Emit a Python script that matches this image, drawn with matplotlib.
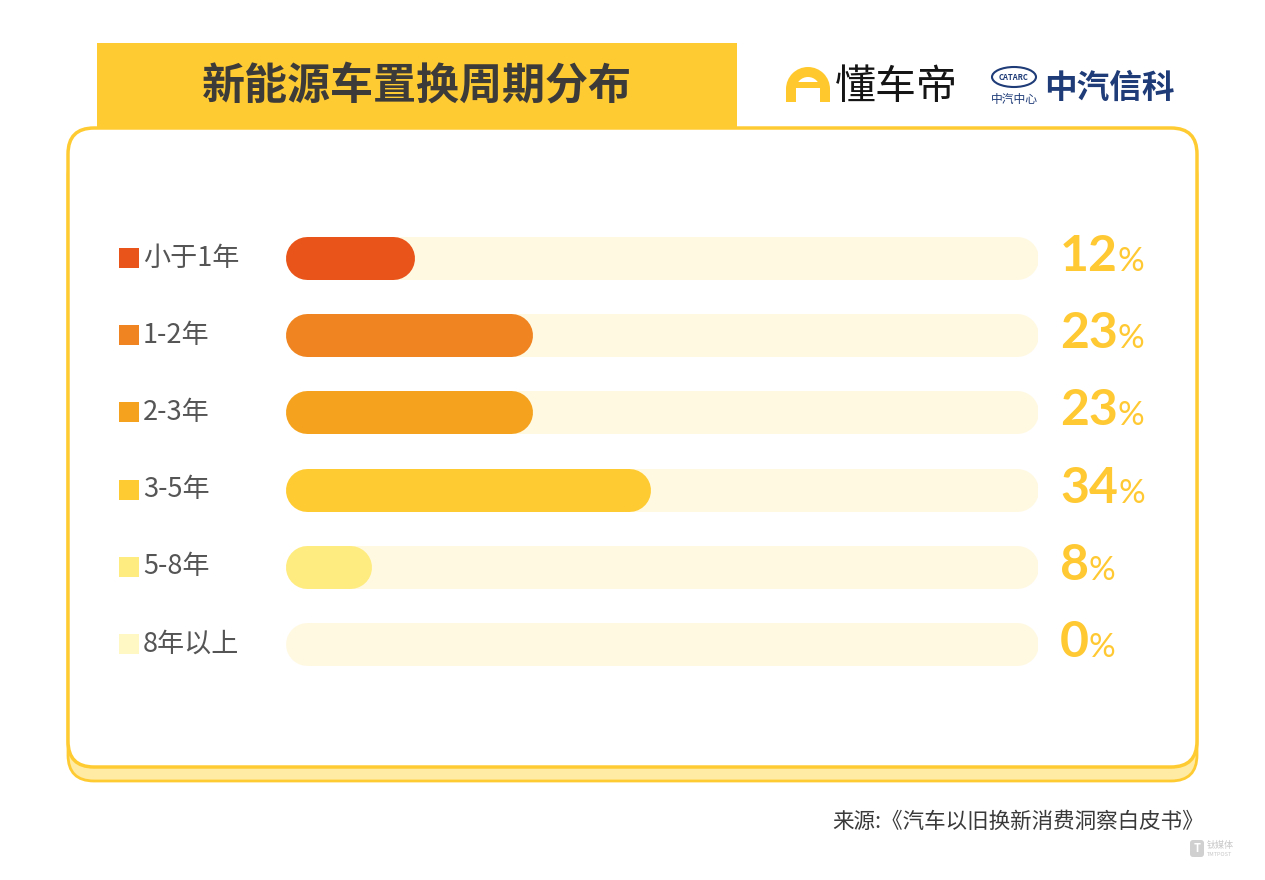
import matplotlib
matplotlib.use('Agg')
import matplotlib.pyplot as plt
from matplotlib.patches import FancyBboxPatch, Rectangle, Wedge, Ellipse
from matplotlib.transforms import blended_transform_factory

plt.rcParams['font.family'] = ['Noto Sans CJK SC', 'DejaVu Sans']

# 数据
categories = ['小于1年', '1-2年', '2-3年', '3-5年', '5-8年', '8年以上']
shares = [12, 23, 23, 34, 8, 0]
bar_colors = ['#E9541A', '#EF8421', '#F5A31F', '#FFCB33', '#FFEC80', '#FFF7C4']
axis_max = 70
title = '新能源车置换周期分布'
source = '来源:《汽车以旧换新消费洞察白皮书》'

YELLOW = '#FFCB33'
W, H = 1265, 880
fig = plt.figure(figsize=(W / 100, H / 100), dpi=100)

# 背景层，像素坐标
bg = fig.add_axes([0, 0, 1, 1])
bg.set_xlim(0, W)
bg.set_ylim(H, 0)
bg.axis('off')

# 卡片底部阴影 + 卡片
bg.add_patch(FancyBboxPatch((68, 150), 1129, 631, boxstyle='round,pad=0,rounding_size=26',
                            facecolor='#FFEBA3', edgecolor=YELLOW, lw=2))
bg.add_patch(FancyBboxPatch((68, 128), 1129, 639, boxstyle='round,pad=0,rounding_size=26',
                            facecolor='white', edgecolor=YELLOW, lw=2.5))

# 标题框
bg.add_patch(Rectangle((97, 43), 640, 86.5, facecolor=YELLOW, edgecolor='none'))
bg.text(417, 86, title, ha='center', va='center', fontsize=31, fontweight='bold', color='#3D3A3A')

# 懂车帝 logo
bg.add_patch(Wedge((808, 89), 22, 180, 360, width=10, facecolor='#FFC92E', edgecolor='none'))
bg.add_patch(Rectangle((795, 82), 26, 6, facecolor='#FFC92E', edgecolor='none'))
bg.add_patch(Rectangle((786, 88), 10, 14, facecolor='#FFC92E', edgecolor='none'))
bg.add_patch(Rectangle((820, 88), 10, 14, facecolor='#FFC92E', edgecolor='none'))
bg.text(835, 87, '懂车帝', ha='left', va='center', fontsize=29.5, fontweight='medium', color='#151515')

# 中汽中心 logo
NAVY = '#1F3C78'
bg.add_patch(Ellipse((1014, 77), 44, 20, facecolor='none', edgecolor=NAVY, lw=1.5))
bg.text(1014, 77, 'CATARC', ha='center', va='center', fontsize=5.5, fontweight='bold', color=NAVY)
bg.text(1014, 99, '中汽中心', ha='center', va='center', fontsize=8.5, color=NAVY)
bg.text(1044, 88, '中汽信科', ha='left', va='center', fontsize=23.5, fontweight='bold', color=NAVY)

# 条形图区域
bar_left, bar_right = 285, 1038
bar_top, bar_bot = 219.5, 682.5
ax = fig.add_axes([bar_left / W, 1 - bar_bot / H, (bar_right - bar_left) / W, (bar_bot - bar_top) / H])
ax.set_xlim(0, axis_max)
ax.set_ylim(len(categories) - 0.5, -0.5)
ax.axis('off')

bar_h = 43  # 像素
lw = bar_h * 72 / 100
cap = (bar_h / 2) / ((bar_right - bar_left) / axis_max)

for i, v in enumerate(shares):
    ax.plot([cap, axis_max - cap], [i, i], color='#FFF9E2', lw=lw, solid_capstyle='round', zorder=1)
    if v > 0:
        ax.plot([cap, v - cap], [i, i], color=bar_colors[i], lw=lw, solid_capstyle='round', zorder=2)

# 图例方块、标签、数值
trans = blended_transform_factory(bg.transData, ax.transData)
for i, (cat, v) in enumerate(zip(categories, shares)):
    bg.plot([129], [i], marker='s', ms=14.4, mew=0, color=bar_colors[i], transform=trans)
    bg.text(143, i, cat, transform=trans, ha='left', va='center', fontsize=19.5, color='#555555')
    t = bg.annotate(str(v), xy=(1060, i), xycoords=trans, xytext=(0, -13), textcoords='offset pixels',
                    ha='left', va='baseline', fontsize=36, fontweight='bold', color='#FFC933', family='Lato')
    bg.annotate('%', xy=(1, i), xycoords=(t, trans), xytext=(0, -13), textcoords='offset pixels',
                ha='left', va='baseline', fontsize=24, color='#FFC933', family='Lato')

# 来源
bg.text(1204, 822, source, ha='right', va='center', fontsize=15.5, color='#3A3A3A')

# 水印
bg.add_patch(FancyBboxPatch((1190, 840), 14, 17, boxstyle='round,pad=0,rounding_size=3',
                            facecolor='#D0D0D0', edgecolor='none'))
bg.text(1197, 848, 'T', ha='center', va='center', fontsize=8, fontweight='bold', color='white')
bg.text(1207, 845, '钛媒体', ha='left', va='center', fontsize=6.5, color='#C8C8C8')
bg.text(1207, 854, 'TMTPOST', ha='left', va='center', fontsize=4, color='#C8C8C8')

fig.savefig('out.png', dpi=100)
